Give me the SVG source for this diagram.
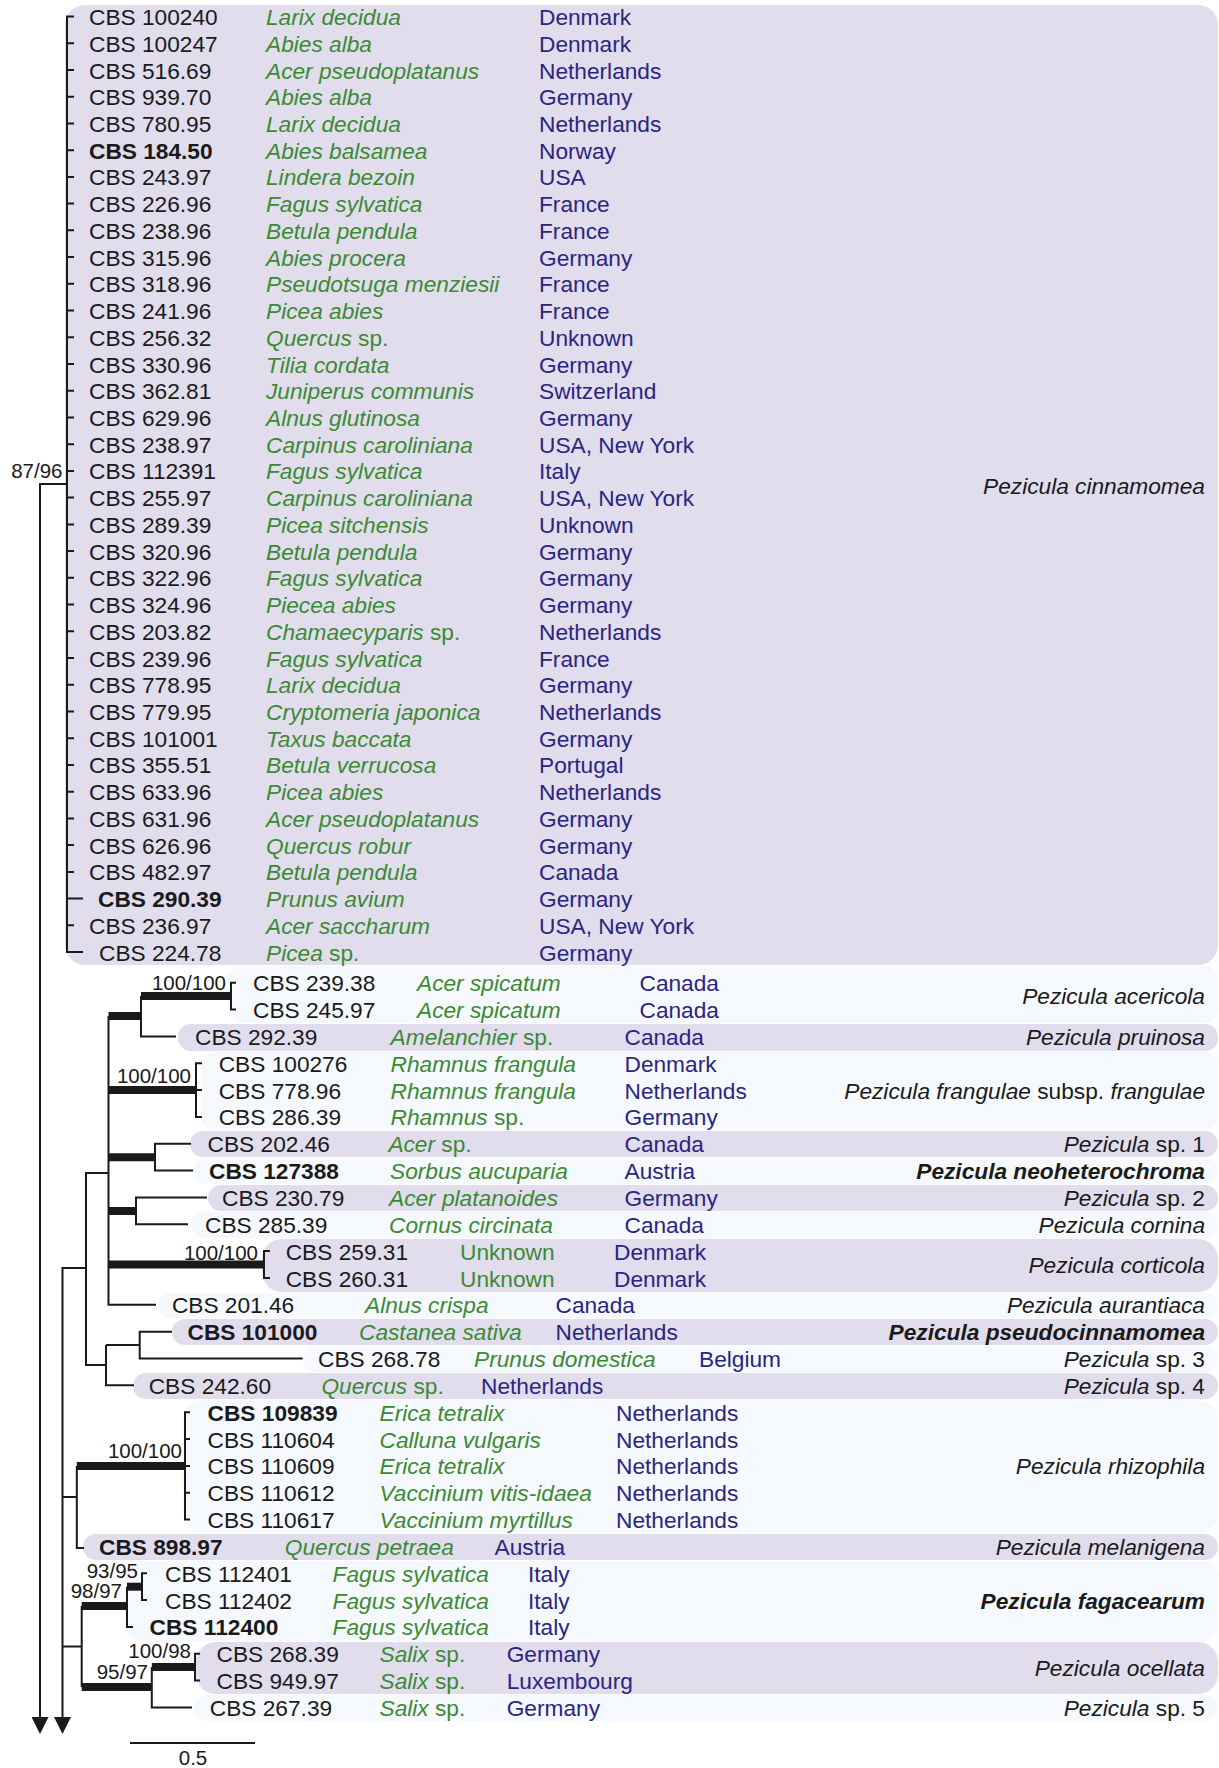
<svg xmlns="http://www.w3.org/2000/svg" width="1219" height="1768" viewBox="0 0 1219 1768">
<style>
text{font-family:"Liberation Sans",Arial,sans-serif;font-size:22.7px;fill:#1a1a1a}
.b{font-weight:bold}
.s{fill:#3b8a33;font-style:italic}
.n{font-style:normal}
.k{fill:#2b2580}
.r{text-anchor:end;font-style:italic}
.lab{font-size:20.5px}
.lv{fill:#e1dded}
.lt{fill:#f5f8fd}
.t{stroke:#1a1a1a;stroke-width:2;fill:none}
.th{stroke:#1a1a1a;stroke-width:8;fill:none}
</style>
<defs>
<marker id="arr" markerWidth="17" markerHeight="17" refX="0" refY="8.5" orient="auto" markerUnits="userSpaceOnUse" viewBox="0 0 17 17"><path d="M0,0 L17,8.5 L0,17 Z" fill="#1a1a1a"/></marker>
</defs>
<rect width="1219" height="1768" fill="#ffffff"/>

<!-- bands -->
<g id="bands">
<rect class="lv" x="65" y="5" width="1153" height="960" rx="20"/>
<rect class="lt" x="228" y="966" width="990" height="57" rx="14"/>
<rect class="lv" x="178" y="1024" width="1040" height="27" rx="13"/>
<rect class="lt" x="201" y="1052" width="1017" height="78" rx="14"/>
<rect class="lv" x="190" y="1131" width="1028" height="26" rx="13"/>
<rect class="lt" x="193" y="1158" width="1025" height="26" rx="13"/>
<rect class="lv" x="208" y="1185" width="1010" height="26" rx="13"/>
<rect class="lt" x="191" y="1212" width="1027" height="26" rx="13"/>
<rect class="lv" x="262" y="1239" width="956" height="53" rx="20"/>
<rect class="lt" x="158" y="1293" width="1060" height="25" rx="12"/>
<rect class="lv" x="172" y="1319" width="1046" height="26" rx="13"/>
<rect class="lt" x="303" y="1346" width="915" height="26" rx="13"/>
<rect class="lv" x="133" y="1373" width="1085" height="26" rx="13"/>
<rect class="lt" x="183" y="1400" width="1035" height="133" rx="20"/>
<rect class="lv" x="83" y="1534" width="1135" height="26" rx="13"/>
<rect class="lt" x="125" y="1561" width="1093" height="80" rx="16"/>
<rect class="lv" x="196" y="1642" width="1022" height="52" rx="20"/>
<rect class="lt" x="194" y="1695" width="1024" height="26" rx="13"/>
</g>

<!-- connectors -->
<g id="connectors">
<path class="t" d="M74,16.5 H67 V952.1 H83 M67,43.2 h7 M67,70 h7 M67,96.7 h7 M67,123.4 h7 M67,150.2 h7 M67,176.9 h7 M67,203.6 h7 M67,230.3 h7 M67,257.1 h7 M67,283.8 h7 M67,310.5 h7 M67,337.3 h7 M67,364 h7 M67,390.7 h7 M67,417.5 h7 M67,444.2 h7 M67,470.9 h7 M67,497.6 h7 M67,524.4 h7 M67,551.1 h7 M67,577.8 h7 M67,604.6 h7 M67,631.3 h7 M67,658 h7 M67,684.8 h7 M67,711.5 h7 M67,738.2 h7 M67,764.9 h7 M67,791.7 h7 M67,818.4 h7 M67,845.1 h7 M67,871.9 h7 M67,898.6 h16 M67,925.3 h7"/>
<path class="t" d="M67,484 H40 V1717" marker-end="url(#arr)"/>
<path class="t" d="M86,1268 H62.5 V1717" marker-end="url(#arr)"/>
<!-- node X -->
<path class="t" d="M108.5,1173 H86 V1365 H106"/>
<!-- node Y -->
<path class="t" d="M108.5,1016 V1304.8 H156"/>
<path class="th" d="M108.5,1016 H141"/>
<path class="t" d="M141,996 V1036.4 H176"/>
<path class="th" d="M141,996 H231"/>
<path class="t" d="M236,982.7 H231 V1009.6 H236"/>
<path class="th" d="M108.5,1090.1 H196"/>
<path class="t" d="M202,1063.3 H196 V1116.9 H202 M196,1090.1 h6"/>
<path class="th" d="M108.5,1157.2 H155"/>
<path class="t" d="M191,1143.8 H155 V1170.6 H193"/>
<path class="th" d="M108.5,1211 H136"/>
<path class="t" d="M207,1197.5 H136 V1224.3 H188"/>
<path class="th" d="M108.5,1264.5 H264"/>
<path class="t" d="M270,1251.1 H264 V1278 H270"/>
<!-- node Z / W -->
<path class="t" d="M106,1345 V1385.3 H134 M106,1345 H139.7 M172,1331.7 H139.7 V1358.5 H302.7"/>
<!-- rhizophila / melanigena -->
<path class="t" d="M62.5,1497 H76.8 M76.8,1466 V1548 H84"/>
<path class="th" d="M76.8,1466 H185"/>
<path class="t" d="M190,1412.2 H185 V1519.5 H190 M185,1439 h5 M185,1465.9 h5 M185,1492.7 h5"/>
<!-- fagacearum / ocellata -->
<path class="t" d="M62.5,1646.5 H81.7 M81.7,1606 V1687"/>
<path class="th" d="M81.7,1606 H127"/>
<path class="t" d="M127,1586.7 V1626.9 H133"/>
<path class="th" d="M127,1586.7 H142"/>
<path class="t" d="M147,1573.2 H142 V1600.1 H147"/>
<path class="th" d="M81.7,1687 H151.8"/>
<path class="t" d="M151.8,1667 V1707.4 H192"/>
<path class="th" d="M151.8,1667 H195"/>
<path class="t" d="M200,1653.7 H195 V1680.6 H200"/>
<!-- scale bar -->
<path class="t" d="M130,1743 H255"/>
</g>

<g id="support-labels">
<text class="lab" x="62.5" y="478" text-anchor="end">87/96</text>
<text class="lab" x="226" y="990" text-anchor="end">100/100</text>
<text class="lab" x="191" y="1083" text-anchor="end">100/100</text>
<text class="lab" x="258" y="1259.5" text-anchor="end">100/100</text>
<text class="lab" x="182" y="1458" text-anchor="end">100/100</text>
<text class="lab" x="138" y="1578" text-anchor="end">93/95</text>
<text class="lab" x="122" y="1598" text-anchor="end">98/97</text>
<text class="lab" x="191" y="1658" text-anchor="end">100/98</text>
<text class="lab" x="148" y="1679" text-anchor="end">95/97</text>
<text class="lab" x="193" y="1765" text-anchor="middle">0.5</text>
</g>

<g id="clade-cinnamomea">
<text x="89" y="25">CBS 100240</text><text class="s" x="266" y="25">Larix decidua</text><text class="k" x="539" y="25">Denmark</text>
<text x="89" y="51.7">CBS 100247</text><text class="s" x="266" y="51.7">Abies alba</text><text class="k" x="539" y="51.7">Denmark</text>
<text x="89" y="78.5">CBS 516.69</text><text class="s" x="266" y="78.5">Acer pseudoplatanus</text><text class="k" x="539" y="78.5">Netherlands</text>
<text x="89" y="105.2">CBS 939.70</text><text class="s" x="266" y="105.2">Abies alba</text><text class="k" x="539" y="105.2">Germany</text>
<text x="89" y="131.9">CBS 780.95</text><text class="s" x="266" y="131.9">Larix decidua</text><text class="k" x="539" y="131.9">Netherlands</text>
<text class="b" x="89" y="158.7">CBS 184.50</text><text class="s" x="266" y="158.7">Abies balsamea</text><text class="k" x="539" y="158.7">Norway</text>
<text x="89" y="185.4">CBS 243.97</text><text class="s" x="266" y="185.4">Lindera bezoin</text><text class="k" x="539" y="185.4">USA</text>
<text x="89" y="212.1">CBS 226.96</text><text class="s" x="266" y="212.1">Fagus sylvatica</text><text class="k" x="539" y="212.1">France</text>
<text x="89" y="238.8">CBS 238.96</text><text class="s" x="266" y="238.8">Betula pendula</text><text class="k" x="539" y="238.8">France</text>
<text x="89" y="265.6">CBS 315.96</text><text class="s" x="266" y="265.6">Abies procera</text><text class="k" x="539" y="265.6">Germany</text>
<text x="89" y="292.3">CBS 318.96</text><text class="s" x="266" y="292.3">Pseudotsuga menziesii</text><text class="k" x="539" y="292.3">France</text>
<text x="89" y="319">CBS 241.96</text><text class="s" x="266" y="319">Picea abies</text><text class="k" x="539" y="319">France</text>
<text x="89" y="345.8">CBS 256.32</text><text class="s" x="266" y="345.8">Quercus<tspan class="n"> sp.</tspan></text><text class="k" x="539" y="345.8">Unknown</text>
<text x="89" y="372.5">CBS 330.96</text><text class="s" x="266" y="372.5">Tilia cordata</text><text class="k" x="539" y="372.5">Germany</text>
<text x="89" y="399.2">CBS 362.81</text><text class="s" x="266" y="399.2">Juniperus communis</text><text class="k" x="539" y="399.2">Switzerland</text>
<text x="89" y="426">CBS 629.96</text><text class="s" x="266" y="426">Alnus glutinosa</text><text class="k" x="539" y="426">Germany</text>
<text x="89" y="452.7">CBS 238.97</text><text class="s" x="266" y="452.7">Carpinus caroliniana</text><text class="k" x="539" y="452.7">USA, New York</text>
<text x="89" y="479.4">CBS 112391</text><text class="s" x="266" y="479.4">Fagus sylvatica</text><text class="k" x="539" y="479.4">Italy</text>
<text x="89" y="506.1">CBS 255.97</text><text class="s" x="266" y="506.1">Carpinus caroliniana</text><text class="k" x="539" y="506.1">USA, New York</text>
<text x="89" y="532.9">CBS 289.39</text><text class="s" x="266" y="532.9">Picea sitchensis</text><text class="k" x="539" y="532.9">Unknown</text>
<text x="89" y="559.6">CBS 320.96</text><text class="s" x="266" y="559.6">Betula pendula</text><text class="k" x="539" y="559.6">Germany</text>
<text x="89" y="586.3">CBS 322.96</text><text class="s" x="266" y="586.3">Fagus sylvatica</text><text class="k" x="539" y="586.3">Germany</text>
<text x="89" y="613.1">CBS 324.96</text><text class="s" x="266" y="613.1">Piecea abies</text><text class="k" x="539" y="613.1">Germany</text>
<text x="89" y="639.8">CBS 203.82</text><text class="s" x="266" y="639.8">Chamaecyparis<tspan class="n"> sp.</tspan></text><text class="k" x="539" y="639.8">Netherlands</text>
<text x="89" y="666.5">CBS 239.96</text><text class="s" x="266" y="666.5">Fagus sylvatica</text><text class="k" x="539" y="666.5">France</text>
<text x="89" y="693.3">CBS 778.95</text><text class="s" x="266" y="693.3">Larix decidua</text><text class="k" x="539" y="693.3">Germany</text>
<text x="89" y="720">CBS 779.95</text><text class="s" x="266" y="720">Cryptomeria japonica</text><text class="k" x="539" y="720">Netherlands</text>
<text x="89" y="746.7">CBS 101001</text><text class="s" x="266" y="746.7">Taxus baccata</text><text class="k" x="539" y="746.7">Germany</text>
<text x="89" y="773.4">CBS 355.51</text><text class="s" x="266" y="773.4">Betula verrucosa</text><text class="k" x="539" y="773.4">Portugal</text>
<text x="89" y="800.2">CBS 633.96</text><text class="s" x="266" y="800.2">Picea abies</text><text class="k" x="539" y="800.2">Netherlands</text>
<text x="89" y="826.9">CBS 631.96</text><text class="s" x="266" y="826.9">Acer pseudoplatanus</text><text class="k" x="539" y="826.9">Germany</text>
<text x="89" y="853.6">CBS 626.96</text><text class="s" x="266" y="853.6">Quercus robur</text><text class="k" x="539" y="853.6">Germany</text>
<text x="89" y="880.4">CBS 482.97</text><text class="s" x="266" y="880.4">Betula pendula</text><text class="k" x="539" y="880.4">Canada</text>
<text class="b" x="98" y="907.1">CBS 290.39</text><text class="s" x="266" y="907.1">Prunus avium</text><text class="k" x="539" y="907.1">Germany</text>
<text x="89" y="933.8">CBS 236.97</text><text class="s" x="266" y="933.8">Acer saccharum</text><text class="k" x="539" y="933.8">USA, New York</text>
<text x="99" y="960.6">CBS 224.78</text><text class="s" x="266" y="960.6">Picea<tspan class="n"> sp.</tspan></text><text class="k" x="539" y="960.6">Germany</text>
<text class="r" x="1205" y="494">Pezicula cinnamomea</text>
</g>

<g id="clade-acericola">
<text x="253" y="991.2">CBS 239.38</text><text class="s" x="417" y="991.2">Acer spicatum</text><text class="k" x="639.5" y="991.2">Canada</text>
<text x="253" y="1018.1">CBS 245.97</text><text class="s" x="417" y="1018.1">Acer spicatum</text><text class="k" x="639.5" y="1018.1">Canada</text>
<text class="r" x="1205" y="1004">Pezicula acericola</text>
</g>
<g id="clade-pruinosa">
<text x="195" y="1044.9">CBS 292.39</text><text class="s" x="390.6" y="1044.9">Amelanchier<tspan class="n"> sp.</tspan></text><text class="k" x="624.5" y="1044.9">Canada</text>
<text class="r" x="1205" y="1044.9">Pezicula pruinosa</text>
</g>
<g id="clade-frangulae">
<text x="218.7" y="1071.8">CBS 100276</text><text class="s" x="390.6" y="1071.8">Rhamnus frangula</text><text class="k" x="624.5" y="1071.8">Denmark</text>
<text x="218.7" y="1098.6">CBS 778.96</text><text class="s" x="390.6" y="1098.6">Rhamnus frangula</text><text class="k" x="624.5" y="1098.6">Netherlands</text>
<text x="218.7" y="1125.4">CBS 286.39</text><text class="s" x="390.6" y="1125.4">Rhamnus<tspan class="n"> sp.</tspan></text><text class="k" x="624.5" y="1125.4">Germany</text>
<text class="r" x="1205" y="1098.6">Pezicula frangulae<tspan class="n"> subsp. </tspan>frangulae</text>
</g>
<g id="clade-sp1">
<text x="207.6" y="1152.3">CBS 202.46</text><text class="s" x="388.4" y="1152.3">Acer<tspan class="n"> sp.</tspan></text><text class="k" x="624.5" y="1152.3">Canada</text>
<text class="r" x="1205" y="1152.3">Pezicula<tspan class="n"> sp. 1</tspan></text>
</g>
<g id="clade-neoheterochroma">
<text class="b" x="209" y="1179.1">CBS 127388</text><text class="s" x="390" y="1179.1">Sorbus aucuparia</text><text class="k" x="624.5" y="1179.1">Austria</text>
<text class="r b" x="1205" y="1179.1">Pezicula neoheterochroma</text>
</g>
<g id="clade-sp2">
<text x="222" y="1206">CBS 230.79</text><text class="s" x="389" y="1206">Acer platanoides</text><text class="k" x="624.5" y="1206">Germany</text>
<text class="r" x="1205" y="1206">Pezicula<tspan class="n"> sp. 2</tspan></text>
</g>
<g id="clade-cornina">
<text x="205" y="1232.8">CBS 285.39</text><text class="s" x="389" y="1232.8">Cornus circinata</text><text class="k" x="624.5" y="1232.8">Canada</text>
<text class="r" x="1205" y="1232.8">Pezicula cornina</text>
</g>
<g id="clade-corticola">
<text x="285.7" y="1259.6">CBS 259.31</text><text class="s n" x="460" y="1259.6">Unknown</text><text class="k" x="614" y="1259.6">Denmark</text>
<text x="285.7" y="1286.5">CBS 260.31</text><text class="s n" x="460" y="1286.5">Unknown</text><text class="k" x="614" y="1286.5">Denmark</text>
<text class="r" x="1205" y="1273">Pezicula corticola</text>
</g>
<g id="clade-aurantiaca">
<text x="171.9" y="1313.3">CBS 201.46</text><text class="s" x="365" y="1313.3">Alnus crispa</text><text class="k" x="555.5" y="1313.3">Canada</text>
<text class="r" x="1205" y="1313.3">Pezicula aurantiaca</text>
</g>
<g id="clade-pseudocinnamomea">
<text class="b" x="187.5" y="1340.2">CBS 101000</text><text class="s" x="359" y="1340.2">Castanea sativa</text><text class="k" x="555.5" y="1340.2">Netherlands</text>
<text class="r b" x="1205" y="1340.2">Pezicula pseudocinnamomea</text>
</g>
<g id="clade-sp3">
<text x="318" y="1367">CBS 268.78</text><text class="s" x="474" y="1367">Prunus domestica</text><text class="k" x="699" y="1367">Belgium</text>
<text class="r" x="1205" y="1367">Pezicula<tspan class="n"> sp. 3</tspan></text>
</g>
<g id="clade-sp4">
<text x="148.7" y="1393.8">CBS 242.60</text><text class="s" x="321.4" y="1393.8">Quercus<tspan class="n"> sp.</tspan></text><text class="k" x="481" y="1393.8">Netherlands</text>
<text class="r" x="1205" y="1393.8">Pezicula<tspan class="n"> sp. 4</tspan></text>
</g>
<g id="clade-rhizophila">
<text class="b" x="207.6" y="1420.7">CBS 109839</text><text class="s" x="379.5" y="1420.7">Erica tetralix</text><text class="k" x="616" y="1420.7">Netherlands</text>
<text x="207.6" y="1447.5">CBS 110604</text><text class="s" x="379.5" y="1447.5">Calluna vulgaris</text><text class="k" x="616" y="1447.5">Netherlands</text>
<text x="207.6" y="1474.4">CBS 110609</text><text class="s" x="379.5" y="1474.4">Erica tetralix</text><text class="k" x="616" y="1474.4">Netherlands</text>
<text x="207.6" y="1501.2">CBS 110612</text><text class="s" x="379.5" y="1501.2">Vaccinium vitis-idaea</text><text class="k" x="616" y="1501.2">Netherlands</text>
<text x="207.6" y="1528">CBS 110617</text><text class="s" x="379.5" y="1528">Vaccinium myrtillus</text><text class="k" x="616" y="1528">Netherlands</text>
<text class="r" x="1205" y="1474.4">Pezicula rhizophila</text>
</g>
<g id="clade-melanigena">
<text class="b" x="99" y="1554.9">CBS 898.97</text><text class="s" x="284.8" y="1554.9">Quercus petraea</text><text class="k" x="494.6" y="1554.9">Austria</text>
<text class="r" x="1205" y="1554.9">Pezicula melanigena</text>
</g>
<g id="clade-fagacearum">
<text x="165" y="1581.7">CBS 112401</text><text class="s" x="332.6" y="1581.7">Fagus sylvatica</text><text class="k" x="528" y="1581.7">Italy</text>
<text x="165" y="1608.6">CBS 112402</text><text class="s" x="332.6" y="1608.6">Fagus sylvatica</text><text class="k" x="528" y="1608.6">Italy</text>
<text class="b" x="149.6" y="1635.4">CBS 112400</text><text class="s" x="332.6" y="1635.4">Fagus sylvatica</text><text class="k" x="528" y="1635.4">Italy</text>
<text class="r b" x="1205" y="1608.6">Pezicula fagacearum</text>
</g>
<g id="clade-ocellata">
<text x="216.5" y="1662.2">CBS 268.39</text><text class="s" x="379.5" y="1662.2">Salix<tspan class="n"> sp.</tspan></text><text class="k" x="506.7" y="1662.2">Germany</text>
<text x="216.5" y="1689.1">CBS 949.97</text><text class="s" x="379.5" y="1689.1">Salix<tspan class="n"> sp.</tspan></text><text class="k" x="506.7" y="1689.1">Luxembourg</text>
<text class="r" x="1205" y="1675.6">Pezicula ocellata</text>
</g>
<g id="clade-sp5">
<text x="209.8" y="1715.9">CBS 267.39</text><text class="s" x="379.5" y="1715.9">Salix<tspan class="n"> sp.</tspan></text><text class="k" x="506.7" y="1715.9">Germany</text>
<text class="r" x="1205" y="1715.9">Pezicula<tspan class="n"> sp. 5</tspan></text>
</g>
</svg>
